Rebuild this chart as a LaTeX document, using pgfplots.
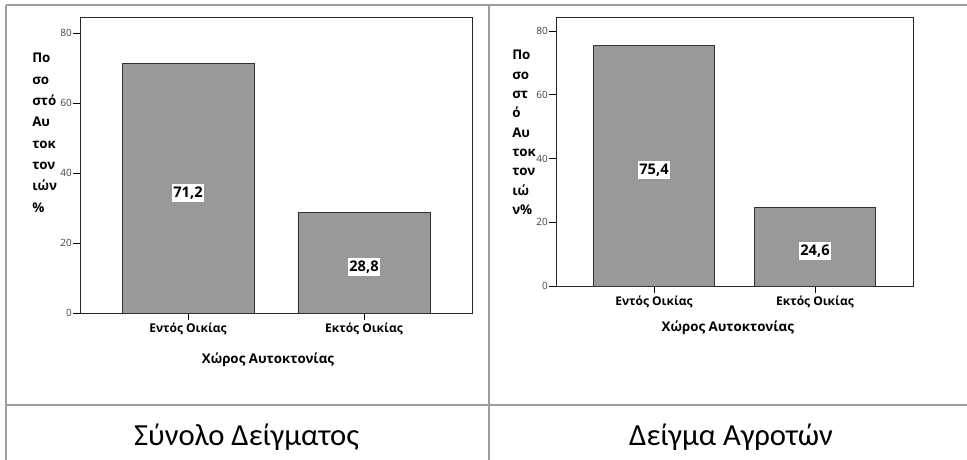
\documentclass[border=0pt]{standalone}
\usepackage{pgfplots}
\pgfplotsset{compat=1.18}
\usepackage{pgfplotstable}
\usepackage{fontspec}
\setmainfont{Open Sans}
\newfontfamily\capfont{Carlito}
\definecolor{barg}{RGB}{153,153,153}
\definecolor{gridg}{RGB}{158,158,158}

\pgfplotstableread{
x y
0 71.2
1 28.8
}\tblA
\pgfplotstableread{
x mid lab
0 34.3 71,2
1 13.1 28,8
}\labA
\pgfplotstableread{
x y
0 75.4
1 24.6
}\tblB
\pgfplotstableread{
x mid lab
0 36.4 75,4
1 11.0 24,6
}\labB

\pgfplotsset{mybar/.style={
  scale only axis, ymin=0,
  xtick={0,1}, ytick={0,20,40,60,80},
  tick align=outside, major tick length=5pt,
  xtick pos=bottom, ytick pos=left,
  axis line style={black!85, line width=0.7pt},
  tick style={black, line width=0.7pt},
  /pgf/number format/assume math mode=true,
  yticklabel style={font=\fontsize{7.5}{9}\selectfont, text=black!75, inner sep=1pt},
  xticklabel style={font=\bfseries\fontsize{9}{11}\selectfont, inner sep=2pt},
  xticklabels={Εντός Οικίας, Εκτός Οικίας},
  xlabel={Χώρος Αυτοκτονίας},
  clip=false,
  every node near coord/.append style={anchor=center, fill=white, inner xsep=1pt, inner ysep=2pt, text=black, font=\bfseries\fontsize{11}{13}\selectfont},
}}

\begin{document}
\begin{tikzpicture}
\path[use as bounding box] (0,0) rectangle (725.25pt,-345pt);
% table lines
\draw[gridg, line width=1.5pt] (4.5pt,-3.75pt) -- (725.25pt,-3.75pt);
\draw[gridg, line width=1.5pt] (4.5pt,-3.75pt) -- (4.5pt,-345pt);
\draw[gridg, line width=1.5pt] (366.4pt,-3.75pt) -- (366.4pt,-345pt);
\draw[gridg, line width=1.5pt] (4.5pt,-303.75pt) -- (725.25pt,-303.75pt);

% left chart
\begin{axis}[mybar, at={(60pt,-234.75pt)}, anchor=south west,
  width=294pt, height=222pt, xmin=-0.614, xmax=1.614, ymax=84.6,
  xlabel style={font=\bfseries\fontsize{10}{12}\selectfont, at={(rel axis cs:0.5,0)}, anchor=center, yshift=-35.25pt, xshift=-6pt}]
\addplot[ybar, bar width=0.75, fill=barg, draw=black!80, line width=0.6pt] table[x=x,y=y]{\tblA};
\addplot[draw=none, mark=none, nodes near coords, point meta=explicit symbolic] table[x=x, y=mid, meta=lab]{\labA};
\end{axis}
\node[anchor=north west, align=left, inner sep=0pt, font=\bfseries\fontsize{10}{16}\selectfont] at (24pt,-39.75pt) {Πο\\σο\\στό\\Αυ\\τοκ\\τον\\ιών\\\%};

% right chart
\begin{axis}[mybar, at={(417pt,-214.5pt)}, anchor=south west,
  width=267.75pt, height=201.75pt, xmin=-0.609, xmax=1.609, ymax=84.4,
  xlabel style={font=\bfseries\fontsize{10}{12}\selectfont, at={(rel axis cs:0.5,0)}, anchor=center, yshift=-31.5pt, xshift=-5pt}]
\addplot[ybar, bar width=0.75, fill=barg, draw=black!80, line width=0.6pt] table[x=x,y=y]{\tblB};
\addplot[draw=none, mark=none, nodes near coords, point meta=explicit symbolic] table[x=x, y=mid, meta=lab]{\labB};
\end{axis}
\node[anchor=north west, align=left, inner sep=0pt, font=\bfseries\fontsize{10}{14.5}\selectfont] at (384pt,-37.5pt) {Πο\\σο\\στ\\ό\\Αυ\\τοκ\\τον\\ιώ\\ν\%};

% captions
\node[anchor=base, inner sep=0pt, font=\capfont\fontsize{23}{28}\selectfont] at (184.9pt,-333.75pt) {Σύνολο Δείγματος};
\node[anchor=base, inner sep=0pt, font=\capfont\fontsize{23}{28}\selectfont] at (548.25pt,-333.75pt) {Δείγμα Αγροτών};
\end{tikzpicture}
\end{document}
